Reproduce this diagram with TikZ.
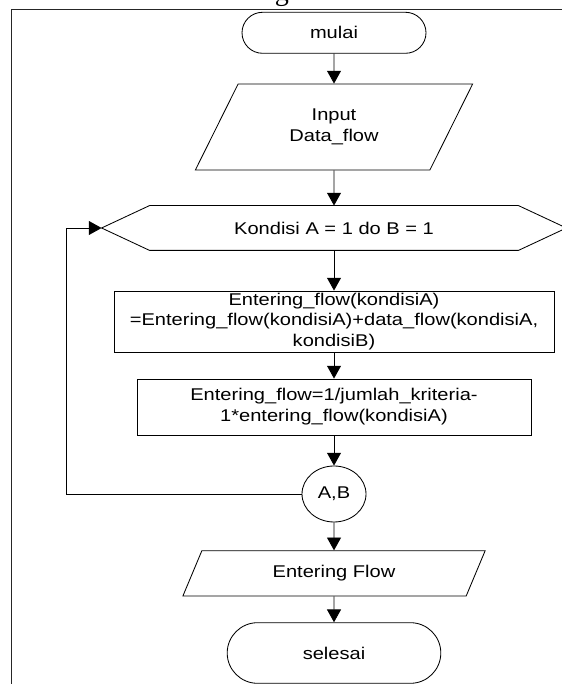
\documentclass[tikz,border=0pt]{standalone}
\usepackage{fontspec}
\setmainfont{Liberation Sans}[FakeStretch=1.18]
\newfontfamily\judulfont{Liberation Serif}
\usetikzlibrary{calc}
\usetikzlibrary{shapes.geometric, shapes.misc}
\usetikzlibrary{arrows.meta}
\tikzset{>={Triangle[width=3.5mm,length=3.2mm]}}
\tikzset{
  garis/.style={draw=black, line width=0.6pt},
  terminal/.style={garis, rounded rectangle, inner sep=0pt},
  inout/.style={garis, trapezium, trapezium left angle=61, trapezium right angle=119,
    trapezium stretches=true, inner sep=0pt, align=center},
  proses/.style={garis, rectangle, inner sep=0pt, align=center},
  konektor/.style={garis, ellipse, inner sep=0pt}
}

\begin{document}
\begin{tikzpicture}[font=\fontsize{12.1pt}{14.8pt}\selectfont, line width=0.6pt]
  \useasboundingbox (0,0) rectangle (14.025,17.1);

  % bingkai
  \draw[line width=1.3pt, black!85] (0.2875,-0.5) -- (0.2875,16.8625) -- (14.6,16.8625);
  \node[anchor=base, font=\judulfont\fontsize{20pt}{24pt}\selectfont] (JUDUL) at (7.05,17.075) {g};

  \node[terminal, minimum width=4.6cm, minimum height=1.025cm] (MULAI) at (8.35,16.28) {mulai};
  \node[inout, minimum width=7cm, minimum height=2.15cm] (INPUT) at (8.35,13.925) {Input\\Data\_flow};
  \node[minimum width=9.2cm, minimum height=1.1cm, inner sep=0pt] (KONDISI) at (8.35,11.4) {Kondisi A = 1 do B = 1};
  \coordinate (KTIP) at ($(KONDISI.west)+(-1.2,0)$);
  \draw[garis] (KONDISI.north west) -- (KONDISI.north east) -- ($(KONDISI.east)+(1.2,0)$)
    -- (KONDISI.south east) -- (KONDISI.south west) -- (KTIP) -- cycle;
  \node[proses, minimum width=11cm, minimum height=1.525cm] (HITUNG1) at (8.35,9.0625)
    {Entering\_flow(kondisiA)\\=Entering\_flow(kondisiA)+data\_flow(kondisiA,\\kondisiB)};
  \node[proses, minimum width=9.85cm, minimum height=1.4cm] (HITUNG2) at (8.35,6.925)
    {Entering\_flow=1/jumlah\_kriteria-\\1*entering\_flow(kondisiA)};
  \node[konektor, minimum width=1.6cm, minimum height=1.4cm] (AB) at (8.35,4.75) {A,B};
  \node[inout, minimum width=7.575cm, minimum height=1.13cm] (OUTPUT) at (8.35,2.765) {Entering Flow};
  \node[terminal, minimum width=5.34cm, minimum height=1.515cm] (SELESAI) at (8.35,0.775) {selesai};
  \coordinate (BALIK) at (1.65,11.4);

  \draw[->] (MULAI) -- (INPUT);
  \draw[->] (INPUT) -- (KONDISI);
  \draw[->] (KONDISI) -- (HITUNG1);
  \draw[->] (HITUNG1) -- (HITUNG2);
  \draw[->] (HITUNG2) -- (AB);
  \draw[->] (AB) -- (OUTPUT);
  \draw[->] (OUTPUT) -- (SELESAI);
  \draw[->] (AB.west) -| (BALIK) -- (KTIP);
\end{tikzpicture}
\end{document}
